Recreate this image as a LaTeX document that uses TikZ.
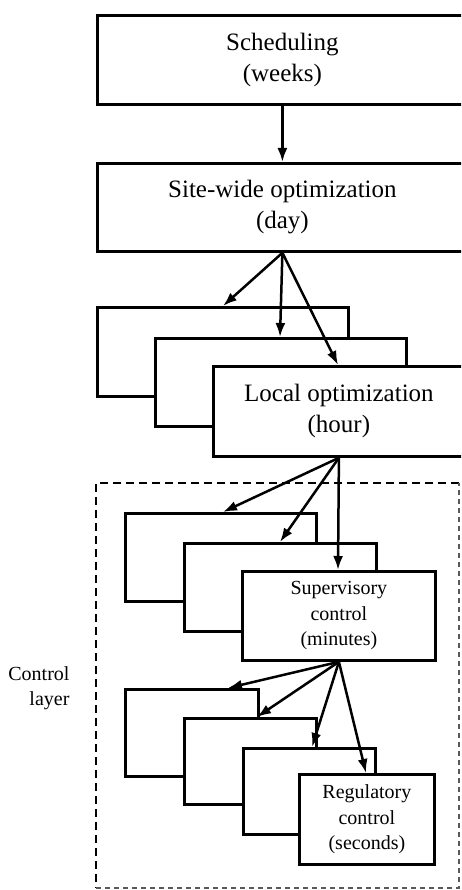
\documentclass[tikz,border=0pt]{standalone}
\usepackage{fontspec}
\setmainfont{Liberation Serif}
\usetikzlibrary{arrows.meta}
\begin{document}
\begin{tikzpicture}[x=1pt,y=-1pt,
  box/.style={draw, line width=2.8pt, fill=white, rectangle, inner sep=0pt, align=center, anchor=north west},
  big/.style={box, font=\fontsize{25}{31}\selectfont},
  small/.style={box, font=\fontsize{20}{25.5}\selectfont},
  arr/.style={line width=2.5pt, -{Latex[length=14pt,width=10pt]}},
  frameA/.style={line width=2.6pt, dash pattern=on 8pt off 5pt},
  frameB/.style={line width=1.2pt, black!65, dash pattern=on 5pt off 4pt}
  ]
\clip (0,0) rectangle (461,890);
% control layer frame
\draw[frameA] (459,483) -- (96,483) -- (96,888);
\draw[frameB] (96,888) -- (459,888) -- (459,483);
\node[font=\fontsize{20}{25}\selectfont, align=right, anchor=east] (lbl) at (73,688) {Control\\layer};
% top
\node[big, minimum width=370pt, minimum height=89pt] (sched) at (96,14) {Scheduling\\(weeks)};
\node[big, minimum width=370pt, minimum height=88pt] (site) at (96,162) {Site-wide optimization\\(day)};
% local stack
\node[box, minimum width=251pt, minimum height=89pt] (s1) at (96,306) {};
\node[box, minimum width=251pt, minimum height=88pt] (s2) at (154,337) {};
\node[big, minimum width=251pt, minimum height=90pt] (local) at (212,365) {Local optimization\\(hour)};
% supervisory stack
\node[box, minimum width=191pt, minimum height=88pt] (a1) at (124,512) {};
\node[box, minimum width=192pt, minimum height=88pt] (a2) at (183,542) {};
\node[small, minimum width=193pt, minimum height=89pt] (sup) at (241,570) {Supervisory\\control\\(minutes)};
% regulatory stack
\node[box, minimum width=133pt, minimum height=87pt] (c1) at (124,688) {};
\node[box, minimum width=132pt, minimum height=86pt] (c2) at (183,717) {};
\node[box, minimum width=132pt, minimum height=86pt] (c3) at (242,747) {};
\node[small, minimum width=135pt, minimum height=90pt] (reg) at (298,773) {Regulatory\\control\\(seconds)};
% arrows
\draw[arr] (sched.south) -- (site.north);
\draw[arr] (site.south) -- ([xshift=127pt]s1.north west);
\draw[arr] (site.south) -- ([xshift=126pt]s2.north west);
\draw[arr] (site.south) -- ([xshift=126pt]local.north west);
\draw[arr] (local.south) -- ([xshift=99pt]a1.north west);
\draw[arr] (local.south) -- ([xshift=97pt]a2.north west);
\draw[arr] (local.south) -- ([xshift=97pt]sup.north west);
\draw[arr] (sup.south) -- ([xshift=104pt]c1.north west);
\draw[arr] (sup.south) -- ([xshift=74pt]c2.north west);
\draw[arr] (sup.south) -- ([xshift=70pt]c3.north west);
\draw[arr] (sup.south) -- ([xshift=68pt]reg.north west);
\end{tikzpicture}
\end{document}
